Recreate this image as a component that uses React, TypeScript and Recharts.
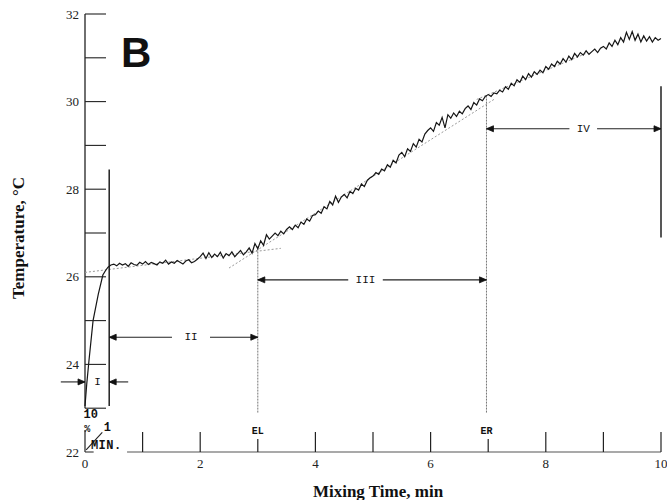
import React from "react";
import {
  LineChart,
  Line,
  XAxis,
  YAxis,
  ReferenceLine,
  ReferenceDot,
} from "recharts";

// initial steep rise (phase I)
const riseTimes = [0.0, 0.03, 0.07, 0.14, 0.23, 0.31, 0.36, 0.4, 0.45];
const riseTemps = [23.05, 23.55, 24.1, 25.0, 25.6, 26.04, 26.15, 26.22, 26.27];

// recorder trace, sampled every 0.05 min from 0.50 to 10.00 min
const traceStart = 0.5;
const traceStep = 0.05;
const traceTemps = [
  // 0.50 - 0.95
  26.29, 26.25, 26.31, 26.27, 26.3, 26.24, 26.32, 26.28, 26.26, 26.33,
  // 1.00 - 1.95
  26.29, 26.35, 26.28, 26.33, 26.3, 26.27, 26.34, 26.31, 26.38, 26.29,
  26.34, 26.31, 26.37, 26.33, 26.29, 26.36, 26.39, 26.32, 26.35, 26.4,
  // 2.00 - 2.95
  26.46, 26.54, 26.42, 26.55, 26.44, 26.52, 26.46, 26.56, 26.43, 26.53,
  26.48, 26.57, 26.46, 26.53, 26.6, 26.5, 26.57, 26.66, 26.54, 26.76,
  // 3.00 - 3.95
  26.64, 26.82, 26.72, 26.96, 26.86, 26.93, 27.0, 26.94, 27.04, 26.98,
  27.08, 27.14, 27.08, 27.18, 27.12, 27.25, 27.2, 27.32, 27.27, 27.4,
  // 4.00 - 4.95
  27.42, 27.5, 27.45, 27.6, 27.55, 27.72, 27.64, 27.84, 27.7, 27.82,
  27.88, 27.8, 27.95, 27.9, 28.02, 27.98, 28.12, 28.06, 28.2, 28.26,
  // 5.00 - 5.95
  28.3, 28.38, 28.34, 28.46, 28.42, 28.56, 28.5, 28.66, 28.6, 28.78,
  28.84, 28.74, 28.92, 28.86, 29.04, 28.96, 29.14, 29.08, 29.26, 29.34,
  // 6.00 - 6.95
  29.4, 29.32, 29.52, 29.46, 29.64, 29.4, 29.7, 29.62, 29.74, 29.66,
  29.78, 29.72, 29.84, 29.9, 29.82, 29.98, 29.92, 30.06, 30.02, 30.12,
  // 7.00 - 7.95
  30.16, 30.12, 30.2, 30.18, 30.26, 30.22, 30.34, 30.28, 30.42, 30.36,
  30.5, 30.44, 30.58, 30.5, 30.64, 30.56, 30.68, 30.62, 30.72, 30.66,
  // 8.00 - 8.95
  30.8, 30.74, 30.86, 30.8, 30.92, 30.86, 30.98, 30.9, 31.04, 30.96,
  31.1, 31.02, 31.12, 31.06, 31.16, 31.08, 31.14, 31.2, 31.12, 31.22,
  // 9.00 - 9.95
  31.26, 31.2, 31.34, 31.26, 31.4, 31.3, 31.46, 31.36, 31.58, 31.42,
  31.6, 31.4, 31.54, 31.36, 31.5, 31.38, 31.48, 31.36, 31.46, 31.4,
  // 10.00
  31.44,
];

const xTicks = [0, 1, 2, 3, 4, 5, 6, 7, 8, 9, 10];
const yTicks = [22, 23, 24, 25, 26, 27, 28, 29, 30, 31, 32];

// mixing stages (arrows between the vertical markers)
const stageNames = ["II", "III", "IV"];
const stageLevels = [24.62, 25.93, 29.38];
const stageFrom = [0.42, 3.0, 6.97];
const stageTo = [3.0, 6.97, 10];
const stageLabelAt = [1.84, 4.87, 8.65];
const stageGap = [0.33, 0.3, 0.24];
const stageOneLevel = 23.6;

// vertical markers: time, low temp, high temp
const solidMarkers = [
  [0.42, 23.05, 28.45],
  [10, 26.9, 30.35],
];
const dottedMarkers = [
  [3.0, 22.9, 26.7],
  [6.97, 22.9, 30.15],
];

// dotted tangent lines used to find EL / ER
const tangents = [
  [0, 26.1, 3.4, 26.65],
  [2.5, 26.2, 7.1, 30.05],
  [6.8, 30.05, 8.7, 31.1],
];

const data = [
  ...riseTimes.map((t, i) => ({ t, temp: riseTemps[i] })),
  ...traceTemps.map((v, i) => ({ t: +(traceStart + i * traceStep).toFixed(2), temp: v })),
];

const serif = "'Liberation Serif', 'Times New Roman', serif";
const mono = "'Liberation Mono', 'DejaVu Sans Mono', monospace";

const XTick = (props: any) => {
  const { x, y, payload } = props;
  const v = payload.value;
  const len = v === 0 ? 0 : v === 3 || v === 7 ? 13 : 20;
  return (
    <g>
      {len > 0 && <line x1={x} x2={x} y1={y} y2={y - len} stroke="#222" strokeWidth={1.2} />}
      {v % 2 === 0 && (
        <text x={x} y={y + 16} textAnchor="middle" fontSize={13} fill="#222" fontFamily={serif}>
          {v}
        </text>
      )}
    </g>
  );
};

const YTick = (props: any) => {
  const { x, y, payload } = props;
  const v = payload.value;
  return (
    <g>
      {v > 22 && <line x1={x} x2={x + 21} y1={y} y2={y} stroke="#222" strokeWidth={1.1} />}
      {v % 2 === 0 && (
        <text x={x - 6} y={y + 4.5} textAnchor="end" fontSize={13} fill="#222" fontFamily={serif}>
          {v}
        </text>
      )}
    </g>
  );
};

const head = (dir: number) => (p: any) => (
  <path
    d={`M${p.cx},${p.cy} l${-7 * dir},-3 l0,6 z`}
    fill="#111"
    stroke="#111"
    strokeWidth={0.8}
  />
);

const note =
  (text: string, size: number, family: string, weight = "bold", spacing = 0) =>
  (p: any) => (
    <text
      x={p.cx}
      y={p.cy}
      textAnchor="middle"
      dominantBaseline="central"
      fontSize={size}
      fontFamily={family}
      fontWeight={weight}
      letterSpacing={spacing}
      fill="#111"
    >
      {text}
    </text>
  );

export default function App() {
  return (
    <div style={{ position: "absolute", left: 0, top: 0, width: 667, height: 500, background: "#fff" }}>
      <LineChart width={667} height={500} data={data} margin={{ top: 14, right: 6, bottom: 0, left: 0 }}>
        <XAxis
          dataKey="t"
          type="number"
          domain={[0, 10]}
          ticks={xTicks}
          interval={0}
          axisLine={false}
          tickLine={false}
          tickSize={0}
          tickMargin={0}
          height={48}
          tick={<XTick />}
          label={{
            content: (p: any) => (
              <text
                x={p.viewBox.x + p.viewBox.width / 2 + 5}
                y={p.viewBox.y + 45}
                textAnchor="middle"
                fontSize={17}
                fontWeight="bold"
                fontFamily={serif}
                fill="#111"
              >
                Mixing Time, min
              </text>
            ),
          }}
        />
        <YAxis
          type="number"
          domain={[22, 32]}
          ticks={yTicks}
          interval={0}
          axisLine={false}
          tickLine={false}
          tickSize={0}
          tickMargin={0}
          width={85}
          tick={<YTick />}
          label={{
            content: (p: any) => {
              const cx = p.viewBox.x + 24;
              const cy = p.viewBox.y + p.viewBox.height / 2 + 5;
              return (
                <text
                  x={cx}
                  y={cy}
                  transform={`rotate(-90 ${cx} ${cy})`}
                  textAnchor="middle"
                  fontSize={17}
                  fontWeight="bold"
                  fontFamily={serif}
                  fill="#111"
                >
                  Temperature, °C
                </text>
              );
            },
          }}
        />

        {/* axis lines drawn in pieces, like the recorder paper */}
        <ReferenceLine segment={[{ x: 0, y: 23 }, { x: 0, y: 32 }]} stroke="#222" strokeWidth={1.3} />
        <ReferenceLine segment={[{ x: 0, y: 22 }, { x: 0, y: 22.5 }]} stroke="#222" strokeWidth={1.2} />
        <ReferenceLine segment={[{ x: 0, y: 22 }, { x: 0.15, y: 22 }]} stroke="#333" strokeWidth={1.1} />
        <ReferenceLine segment={[{ x: 0.73, y: 22 }, { x: 10, y: 22 }]} stroke="#555" strokeWidth={1.1} />
        <ReferenceLine segment={[{ x: 0.02, y: 22.05 }, { x: 0.3, y: 22.45 }]} stroke="#222" strokeWidth={1.1} />

        {/* tangents */}
        {tangents.map((s, i) => (
          <ReferenceLine
            key={"tan" + i}
            segment={[{ x: s[0], y: s[1] }, { x: s[2], y: s[3] }]}
            stroke="#999"
            strokeWidth={1}
            strokeDasharray="2 2"
          />
        ))}

        {/* vertical markers */}
        {solidMarkers.map((m, i) => (
          <ReferenceLine
            key={"sm" + i}
            segment={[{ x: m[0], y: m[1] }, { x: m[0], y: m[2] }]}
            stroke="#111"
            strokeWidth={1.4}
            ifOverflow="visible"
          />
        ))}
        {dottedMarkers.map((m, i) => (
          <ReferenceLine
            key={"dm" + i}
            segment={[{ x: m[0], y: m[1] }, { x: m[0], y: m[2] }]}
            stroke="#777"
            strokeWidth={1}
            strokeDasharray="2 1"
          />
        ))}

        {/* stage I arrows point inward from outside */}
        <ReferenceLine
          segment={[{ x: -0.42, y: stageOneLevel }, { x: 0, y: stageOneLevel }]}
          stroke="#222"
          strokeWidth={1.1}
          ifOverflow="visible"
        />
        <ReferenceLine
          segment={[{ x: 0.42, y: stageOneLevel }, { x: 0.75, y: stageOneLevel }]}
          stroke="#222"
          strokeWidth={1.1}
        />
        <ReferenceDot x={0} y={stageOneLevel} shape={head(1)} ifOverflow="visible" />
        <ReferenceDot x={0.42} y={stageOneLevel} shape={head(-1)} />
        <ReferenceDot x={0.22} y={stageOneLevel} shape={note("I", 11, mono, "normal")} />

        {stageNames.map((name, i) => (
          <React.Fragment key={name}>
            <ReferenceLine
              segment={[
                { x: stageFrom[i], y: stageLevels[i] },
                { x: stageLabelAt[i] - stageGap[i], y: stageLevels[i] },
              ]}
              stroke="#222"
              strokeWidth={1.1}
            />
            <ReferenceLine
              segment={[
                { x: stageLabelAt[i] + stageGap[i], y: stageLevels[i] },
                { x: stageTo[i], y: stageLevels[i] },
              ]}
              stroke="#222"
              strokeWidth={1.1}
              ifOverflow="visible"
            />
            <ReferenceDot x={stageFrom[i]} y={stageLevels[i]} shape={head(-1)} ifOverflow="visible" />
            <ReferenceDot x={stageTo[i]} y={stageLevels[i]} shape={head(1)} ifOverflow="visible" />
            <ReferenceDot x={stageLabelAt[i]} y={stageLevels[i]} shape={note(name, 11, mono, "normal")} />
          </React.Fragment>
        ))}

        {/* text notes */}
        <ReferenceDot x={0.89} y={31.11} shape={note("B", 42, "'Liberation Sans', Arial, sans-serif")} />
        <ReferenceDot x={0.1} y={22.84} shape={note("10", 12, mono)} />
        <ReferenceDot x={0.04} y={22.52} shape={note("%", 10, mono)} />
        <ReferenceDot x={0.39} y={22.54} shape={note("1", 12, mono)} />
        <ReferenceDot x={0.37} y={22.13} shape={note("MIN.", 12, mono, "bold", 0.5)} />
        <ReferenceDot x={3.0} y={22.46} shape={note("EL", 10, mono)} />
        <ReferenceDot x={6.97} y={22.46} shape={note("ER", 10, mono)} />

        <Line
          type="linear"
          dataKey="temp"
          stroke="#161616"
          strokeWidth={1.2}
          dot={false}
          isAnimationActive={false}
        />
      </LineChart>
    </div>
  );
}
